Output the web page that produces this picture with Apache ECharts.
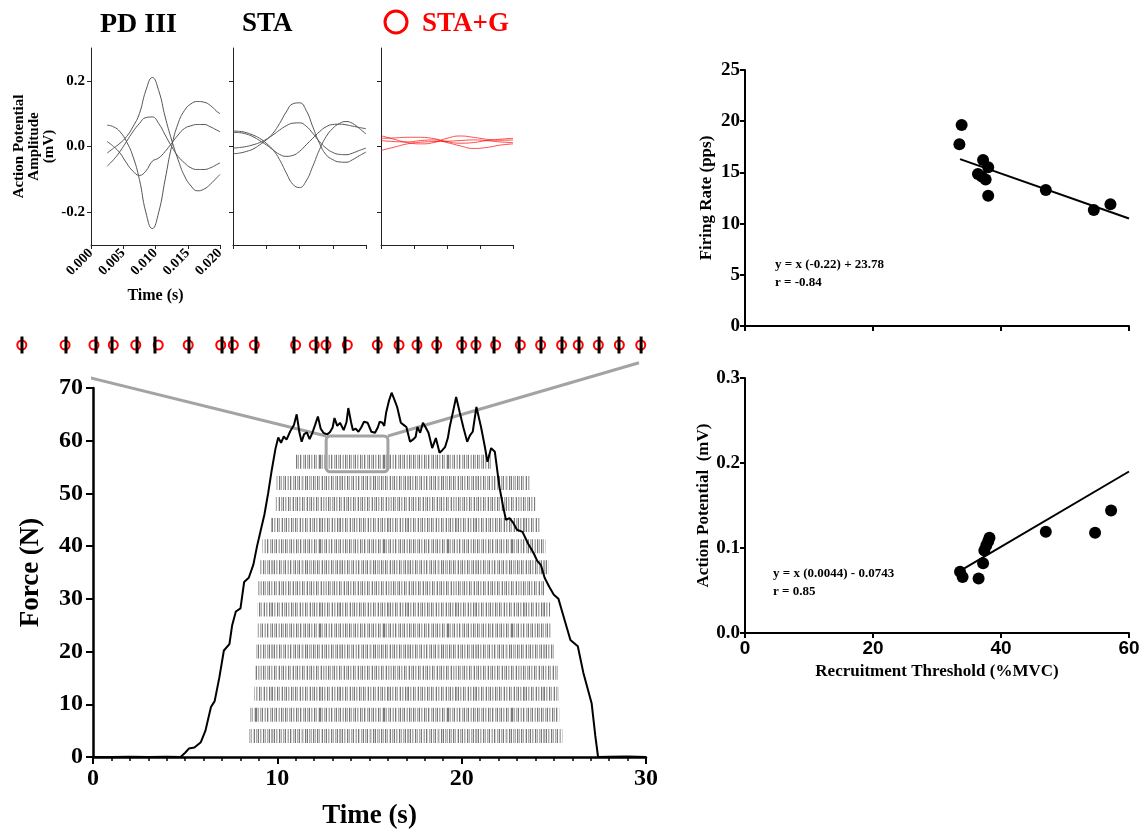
<!DOCTYPE html>
<html>
<head>
<meta charset="utf-8">
<script src="https://cdn.jsdelivr.net/npm/echarts@6/dist/echarts.min.js"></script>
<style>html,body{margin:0;background:#fff}#chart{width:1143px;height:834px}</style>
</head>
<body>
<div id="chart"></div>
<script>
var SERIF = '"Liberation Serif", "Times New Roman", serif';
var SANS = '"Liberation Sans", Arial, sans-serif';

// --- waveform panels (PD III / STA / STA+G) ---
var tPD = [0.0025, 0.0035, 0.0045, 0.0055, 0.0065, 0.0075, 0.0085, 0.0095, 0.0105, 0.0115,
           0.0125, 0.0135, 0.0145, 0.0155, 0.0165, 0.0175, 0.0185, 0.0195, 0.020];
var pdA = [-0.02, -0.005, 0.01, 0.03, 0.06, 0.10, 0.17, 0.21, 0.17, 0.09, 0.02, -0.04, -0.09, -0.12, -0.135, -0.13, -0.115, -0.095, -0.085];
var pdB = [0.065, 0.06, 0.045, 0.015, -0.03, -0.10, -0.20, -0.25, -0.20, -0.10, 0.0, 0.07, 0.11, 0.13, 0.137, 0.135, 0.125, 0.107, 0.10];
var pdC = [-0.06, -0.04, -0.015, 0.015, 0.045, 0.07, 0.088, 0.09, 0.07, 0.035, 0.0, -0.03, -0.05, -0.065, -0.07, -0.07, -0.065, -0.055, -0.05];
var pdD = [0.015, 0.0, -0.02, -0.05, -0.075, -0.088, -0.075, -0.045, -0.035, -0.015, 0.01, 0.035, 0.055, 0.063, 0.067, 0.067, 0.06, 0.05, 0.045];

var tSTA = [0, 0.001, 0.002, 0.003, 0.004, 0.005, 0.006, 0.007, 0.008, 0.009, 0.010,
            0.011, 0.012, 0.013, 0.014, 0.015, 0.016, 0.017, 0.018, 0.019, 0.020];
var staA = [-0.022, -0.02, -0.015, -0.008, 0.005, 0.02, 0.04, 0.07, 0.105, 0.13, 0.133, 0.11, 0.06, 0.01, -0.025, -0.04, -0.047, -0.048, -0.04, -0.028, -0.017];
var staB = [0.047, 0.046, 0.042, 0.035, 0.025, 0.01, -0.01, -0.04, -0.08, -0.115, -0.125, -0.105, -0.06, -0.01, 0.03, 0.055, 0.07, 0.076, 0.07, 0.055, 0.038];
var staC = [-0.005, -0.003, 0.0, 0.005, 0.012, 0.022, 0.035, 0.05, 0.063, 0.071, 0.072, 0.062, 0.04, 0.015, -0.005, -0.018, -0.024, -0.025, -0.02, -0.012, -0.005];
var staD = [0.043, 0.042, 0.038, 0.03, 0.018, 0.005, -0.01, -0.024, -0.03, -0.027, -0.015, 0.005, 0.025, 0.045, 0.06, 0.067, 0.068, 0.066, 0.062, 0.058, 0.054];

var tG = [0, 0.002, 0.004, 0.006, 0.008, 0.010, 0.012, 0.014, 0.016, 0.018, 0.020];
var gA = [0.033, 0.022, 0.012, 0.008, 0.012, 0.025, 0.032, 0.028, 0.022, 0.019, 0.02];
var gB = [0.025, 0.026, 0.028, 0.028, 0.024, 0.015, 0.01, 0.012, 0.018, 0.022, 0.025];
var gC = [0.018, 0.015, 0.014, 0.018, 0.02, 0.012, 0.002, -0.006, -0.003, 0.004, 0.008];
var gD = [-0.012, -0.002, 0.008, 0.013, 0.015, 0.016, 0.018, 0.02, 0.018, 0.014, 0.012];

// --- zoomed spike train (s) ---
var spikeTimes = [12.617, 12.858, 13.022, 13.110, 13.247, 13.345, 13.531, 13.712, 13.767, 13.898,
                  14.106, 14.227, 14.287, 14.385, 14.566, 14.675, 14.785, 14.889, 15.026, 15.102,
                  15.201, 15.338, 15.458, 15.573, 15.666, 15.776, 15.885, 16.006];
var circleTimes = [12.616, 12.853, 13.011, 13.117, 13.240, 13.363, 13.527, 13.705, 13.774, 13.889,
                   14.115, 14.217, 14.281, 14.398, 14.562, 14.681, 14.779, 14.887, 15.024, 15.102,
                   15.210, 15.345, 15.456, 15.571, 15.662, 15.772, 15.887, 16.004];

// --- force trace ---
var forceT = [0, 1, 2, 3, 4, 4.75, 5.0, 5.2, 5.5, 5.85, 6.1, 6.4, 6.6, 6.85, 7.1, 7.4, 7.55, 7.75, 8.0, 8.2,
  8.45, 8.7, 8.9, 9.1, 9.3, 9.5, 9.7, 9.9, 10.05, 10.2, 10.35, 10.5, 10.7, 10.9, 11.05, 11.2, 11.32, 11.45,
  11.6, 11.75, 11.9, 12.05, 12.2, 12.35, 12.5, 12.7, 12.85, 13.0, 13.1, 13.25, 13.4, 13.6, 13.75, 13.85,
  14.0, 14.1, 14.25, 14.4, 14.55, 14.7, 14.9, 15.1, 15.3, 15.45, 15.55, 15.7, 15.8, 15.9, 16.05, 16.2,
  16.35, 16.5, 16.7, 16.85, 17.0, 17.2, 17.35, 17.5, 17.6, 17.75, 17.9, 18.05, 18.2, 18.4, 18.6, 18.8,
  18.95, 19.1, 19.25, 19.35, 19.5, 19.7, 19.9, 20.1, 20.3, 20.45, 20.6, 20.8, 21.05, 21.25, 21.4, 21.6,
  21.8, 22.05, 22.25, 22.4, 22.6, 22.8, 23.0, 23.3, 23.6, 23.9, 24.1, 24.3, 24.5, 24.75, 25.0, 25.25,
  25.5, 25.9, 26.3, 26.6, 27.05, 27.25, 27.4, 28, 29, 30];
var forceN = [0, 0, 0.05, 0, 0.05, 0, 0.8, 1.6, 1.8, 2.8, 5, 9.5, 10.6, 15, 20.2, 21.4, 25, 27.6, 28.2, 33.2,
  34, 36.5, 40, 43, 46, 50, 54.5, 58.5, 60.6, 59.6, 60.8, 60.2, 61.8, 63, 65, 61.5, 59.8, 61.2,
  61.6, 60.3, 61.5, 63, 64.6, 62.3, 61.5, 61.2, 61.6, 62.5, 64.3, 62.8, 63.4, 62, 63.5, 66.2,
  63.5, 62, 62.3, 61.7, 62.5, 63.6, 63.4, 61.7, 61.5, 62.5, 63.6, 63.4, 62.8, 65.3, 67.5, 69.1,
  67.8, 66.4, 63.4, 63, 62.6, 59.8, 60.2, 60.7, 62.6, 61.5, 63.4, 62.5, 61.5, 58.6, 60.5, 57.7,
  58.2, 58.8, 60.5, 62.6, 65, 68.3, 65.3, 62.4, 59.8, 61, 61.7, 66.4, 62.6, 59, 56, 58.6,
  57.9, 51.2, 47.5, 45, 45.3, 44.4, 43.1, 42.7, 40.5, 38.7, 37.2, 36.4, 34, 32.3, 30.8, 30,
  27, 22.2, 21, 16, 10.2, 4, 0, 0.05, 0.1, 0];

// --- motor unit raster rows (start s, end s, force level of row) ---
var rasterStart = [11.0, 9.95, 9.9, 9.65, 9.2, 9.03, 8.92, 8.92, 8.92, 8.86, 8.76, 8.76, 8.54, 8.49];
var rasterEnd   = [21.6, 23.7, 24.0, 24.3, 24.55, 24.7, 24.5, 24.8, 24.9, 25.0, 25.2, 25.24, 25.3, 25.46];
var rasterLevel = [56, 52, 48, 44, 40, 36, 32, 28, 24, 20, 16, 12, 8, 4];

var zoomBox = [12.65, 16.0, 54.1, 60.9];
var zoomFrom = [-3.46, 29.62, 74.8];

// --- right scatter panels ---
var rtFR = [33.85, 33.5, 37.2, 38.0, 36.4, 37.0, 37.6, 38.0, 47.0, 54.5, 57.1];
var frPps = [19.63, 17.74, 16.2, 15.5, 14.85, 14.6, 14.3, 12.73, 13.28, 11.33, 11.88];
var rtAP = [33.6, 34.0, 36.5, 37.2, 37.4, 37.7, 38.0, 38.2, 47.0, 54.7, 57.2];
var apMv = [0.072, 0.066, 0.064, 0.082, 0.097, 0.103, 0.108, 0.112, 0.119, 0.118, 0.144];
var fitFR = [[33.6, 16.3], [60, 10.5]];
var fitAP = [[33.8, 0.074], [60, 0.19]];

function zip(a, b) { return a.map(function (v, i) { return [v, b[i]]; }); }

// barcode-like texture for the raster rows
var textures = [
  '3120213012031021302130120312031202130210312031021302130210312013',
  '21302103120213012031021302130121031302120312031201302130210312021302',
  '12031202130210312013021302103120130213021031201302130210312013021',
  '30210312013021302103120312013021031201302130210321302103120130210312'
];
function makePattern(str) {
  var cv = document.createElement('canvas');
  cv.width = str.length; cv.height = 4;
  var ctx = cv.getContext('2d');
  var shades = [null, 'rgba(0,0,0,0.16)', 'rgba(0,0,0,0.32)', 'rgba(0,0,0,0.52)'];
  for (var i = 0; i < str.length; i++) {
    var s = shades[+str[i]];
    if (s) { ctx.fillStyle = s; ctx.fillRect(i, 0, 1, 4); }
  }
  return { image: cv, repeat: 'repeat' };
}
var patterns = textures.map(makePattern);

var mychart = echarts.init(document.getElementById('chart'));

function lbl(size, fam, extra) {
  var o = { color: '#000', fontSize: size, fontWeight: 'bold', fontFamily: fam || SERIF };
  for (var k in extra) o[k] = extra[k];
  return o;
}
function waveX(grid, showLabel) {
  return {
    type: 'value', gridIndex: grid, min: 0, max: 0.02, interval: 0.005,
    axisLine: { onZero: false, lineStyle: { color: '#222', width: 1 } },
    axisTick: { length: 4, lineStyle: { color: '#222' } },
    axisLabel: lbl(14, SERIF, { show: showLabel, rotate: 45, margin: 6, formatter: function (v) { return v.toFixed(3); } }),
    splitLine: { show: false },
    name: showLabel ? 'Time (s)' : '', nameLocation: 'middle', nameGap: 43,
    nameTextStyle: lbl(16)
  };
}
function waveY(grid, showLabel) {
  return {
    type: 'value', gridIndex: grid, min: -0.3, max: 0.3,
    axisLine: { show: true, lineStyle: { color: '#222', width: 1 } },
    axisTick: { show: true, length: 4, customValues: [-0.2, 0, 0.2], lineStyle: { color: '#222' } },
    axisLabel: lbl(15, SERIF, { show: showLabel, customValues: [-0.2, 0, 0.2], margin: 6, formatter: function (v) { return v.toFixed(1); } }),
    splitLine: { show: false },
    name: showLabel ? 'Action Potential\nAmplitude\n(mV)' : '', nameLocation: 'middle', nameRotate: 90, nameGap: 34,
    nameTextStyle: lbl(15, SERIF, { lineHeight: 15 })
  };
}
function waveLine(grid, t, v, color, w) {
  return {
    type: 'line', xAxisIndex: grid, yAxisIndex: grid, smooth: true, showSymbol: false,
    lineStyle: { color: color, width: w }, data: zip(t, v), silent: true
  };
}

var option = {
  backgroundColor: '#fff',
  animation: false,
  grid: [
    { left: 91, top: 48, width: 129, height: 197, outerBoundsMode: 'none' },
    { left: 233, top: 48, width: 133, height: 197, outerBoundsMode: 'none' },
    { left: 381, top: 48, width: 132, height: 197, outerBoundsMode: 'none' },
    { left: 28, top: 335, width: 612, height: 20, outerBoundsMode: 'none' },
    { left: 93, top: 388, width: 553, height: 369, outerBoundsMode: 'none' },
    { left: 745, top: 70, width: 384, height: 256, outerBoundsMode: 'none' },
    { left: 745, top: 378, width: 384, height: 255, outerBoundsMode: 'none' }
  ],
  xAxis: [
    waveX(0, true), waveX(1, false), waveX(2, false),
    { type: 'value', gridIndex: 3, min: 12.65, max: 16.0, show: false },
    {
      type: 'value', gridIndex: 4, min: 0, max: 30, interval: 10,
      axisLine: { onZero: false, lineStyle: { color: '#000', width: 2.5 } },
      axisTick: { length: 7, lineStyle: { color: '#000', width: 2 } },
      minorTick: { show: true, splitNumber: 10, length: 4, lineStyle: { color: '#000', width: 1.5 } },
      axisLabel: lbl(24, SERIF, { margin: 10 }),
      splitLine: { show: false },
      name: 'Time (s)', nameLocation: 'middle', nameGap: 46, nameTextStyle: lbl(27)
    },
    {
      type: 'value', gridIndex: 5, min: 0, max: 60, interval: 20,
      axisLine: { onZero: false, lineStyle: { color: '#000', width: 2 } },
      axisTick: { length: 5, lineStyle: { color: '#000', width: 2 } },
      axisLabel: { show: false }, splitLine: { show: false }
    },
    {
      type: 'value', gridIndex: 6, min: 0, max: 60, interval: 20,
      axisLine: { onZero: false, lineStyle: { color: '#000', width: 2 } },
      axisTick: { length: 5, lineStyle: { color: '#000', width: 2 } },
      axisLabel: lbl(19, SANS, { margin: 6 }), splitLine: { show: false },
      name: 'Recruitment Threshold (%MVC)', nameLocation: 'middle', nameGap: 30, nameTextStyle: lbl(17)
    }
  ],
  yAxis: [
    waveY(0, true), waveY(1, false), waveY(2, false),
    { type: 'value', gridIndex: 3, min: 0, max: 1, show: false },
    {
      type: 'value', gridIndex: 4, min: 0, max: 70, interval: 10,
      axisLine: { show: true, lineStyle: { color: '#000', width: 2.5 } },
      axisTick: { show: true, length: 7, lineStyle: { color: '#000', width: 2 } },
      axisLabel: lbl(24, SERIF, { margin: 10 }),
      splitLine: { show: false },
      name: 'Force (N)', nameLocation: 'middle', nameRotate: 90, nameGap: 48, nameTextStyle: lbl(27)
    },
    {
      type: 'value', gridIndex: 5, min: 0, max: 25, interval: 5,
      axisLine: { show: true, lineStyle: { color: '#000', width: 2 } },
      axisTick: { show: true, length: 5, lineStyle: { color: '#000', width: 2 } },
      axisLabel: lbl(19, SERIF, { margin: 5 }),
      splitLine: { show: false },
      name: 'Firing Rate (pps)', nameLocation: 'middle', nameRotate: 90, nameGap: 30, nameTextStyle: lbl(17)
    },
    {
      type: 'value', gridIndex: 6, min: 0, max: 0.3, interval: 0.1,
      axisLine: { show: true, lineStyle: { color: '#000', width: 2 } },
      axisTick: { show: true, length: 5, lineStyle: { color: '#000', width: 2 } },
      axisLabel: lbl(19, SERIF, { margin: 5, formatter: function (v) { return v.toFixed(1); } }),
      splitLine: { show: false },
      name: 'Action Potential  (mV)', nameLocation: 'middle', nameRotate: 90, nameGap: 30, nameTextStyle: lbl(17)
    }
  ],
  graphic: [
    { type: 'text', left: 100, top: 11, style: { text: 'PD III', font: 'bold 28px ' + SERIF, fill: '#000' } },
    { type: 'text', left: 242, top: 11, style: { text: 'STA', font: 'bold 27px ' + SERIF, fill: '#000' } },
    { type: 'circle', shape: { cx: 396, cy: 22, r: 11 }, style: { fill: 'none', stroke: '#f00', lineWidth: 3 } },
    { type: 'text', left: 422, top: 11, style: { text: 'STA+G', font: 'bold 27px ' + SERIF, fill: '#f00' } },
    { type: 'text', left: 775, top: 256, style: { text: 'y = x (-0.22) + 23.78\nr = -0.84', font: 'bold 13px ' + SERIF, fill: '#000', lineHeight: 18 } },
    { type: 'text', left: 773, top: 565, style: { text: 'y = x (0.0044) - 0.0743\nr = 0.85', font: 'bold 13px ' + SERIF, fill: '#000', lineHeight: 18 } }
  ],
  series: [
    waveLine(0, tPD, pdA, '#555', 1), waveLine(0, tPD, pdB, '#555', 1),
    waveLine(0, tPD, pdC, '#555', 1), waveLine(0, tPD, pdD, '#555', 1),
    waveLine(1, tSTA, staA, '#555', 1), waveLine(1, tSTA, staB, '#555', 1),
    waveLine(1, tSTA, staC, '#555', 1), waveLine(1, tSTA, staD, '#555', 1),
    waveLine(2, tG, gA, 'rgba(255,0,0,0.7)', 1), waveLine(2, tG, gB, 'rgba(255,0,0,0.7)', 1),
    waveLine(2, tG, gC, 'rgba(255,0,0,0.7)', 1), waveLine(2, tG, gD, 'rgba(255,0,0,0.7)', 1),
    {
      // decomposed spikes, zoomed window
      type: 'scatter', xAxisIndex: 3, yAxisIndex: 3, clip: false, z: 2,
      symbol: 'emptyCircle', symbolSize: 9,
      itemStyle: { color: '#f00', borderColor: '#f00', borderWidth: 1.4, opacity: 1 },
      data: circleTimes.map(function (t) { return [t, 0.5]; })
    },
    {
      type: 'scatter', xAxisIndex: 3, yAxisIndex: 3, clip: false, z: 3,
      symbol: 'rect', symbolSize: [3, 17], itemStyle: { color: '#000', opacity: 1 },
      data: spikeTimes.map(function (t) { return [t, 0.5]; })
    },
    {
      type: 'custom', xAxisIndex: 4, yAxisIndex: 4, z: 1,
      data: rasterStart.map(function (s, i) { return [s, rasterEnd[i], rasterLevel[i]]; }),
      renderItem: function (params, api) {
        var a = api.coord([api.value(0), api.value(2)]);
        var b = api.coord([api.value(1), api.value(2)]);
        return {
          type: 'rect',
          shape: { x: a[0], y: a[1] - 7, width: b[0] - a[0], height: 14 },
          style: { fill: patterns[params.dataIndex % patterns.length] }
        };
      }
    },
    {
      type: 'line', xAxisIndex: 4, yAxisIndex: 4, clip: false, z: 2, showSymbol: false, silent: true,
      lineStyle: { color: '#a3a3a3', width: 3 },
      data: [[zoomFrom[0], zoomFrom[2]], [zoomBox[0], zoomBox[3]]]
    },
    {
      type: 'line', xAxisIndex: 4, yAxisIndex: 4, clip: false, z: 2, showSymbol: false, silent: true,
      lineStyle: { color: '#a3a3a3', width: 3 },
      data: [[zoomFrom[1], zoomFrom[2]], [zoomBox[1], zoomBox[3]]]
    },
    {
      type: 'custom', xAxisIndex: 4, yAxisIndex: 4, z: 3,
      data: [zoomBox],
      renderItem: function (params, api) {
        var a = api.coord([api.value(0), api.value(3)]);
        var b = api.coord([api.value(1), api.value(2)]);
        return {
          type: 'rect',
          shape: { x: a[0], y: a[1], width: b[0] - a[0], height: b[1] - a[1], r: 4 },
          style: { fill: 'none', stroke: '#a3a3a3', lineWidth: 3 }
        };
      }
    },
    {
      type: 'line', xAxisIndex: 4, yAxisIndex: 4, z: 5, showSymbol: false, silent: true,
      lineStyle: { color: '#000', width: 2 },
      data: zip(forceT, forceN)
    },
    {
      type: 'scatter', xAxisIndex: 5, yAxisIndex: 5, symbolSize: 12,
      itemStyle: { color: '#000', opacity: 1 }, data: zip(rtFR, frPps)
    },
    {
      type: 'line', xAxisIndex: 5, yAxisIndex: 5, showSymbol: false,
      lineStyle: { color: '#000', width: 2 }, data: fitFR
    },
    {
      type: 'scatter', xAxisIndex: 6, yAxisIndex: 6, symbolSize: 12,
      itemStyle: { color: '#000', opacity: 1 }, data: zip(rtAP, apMv)
    },
    {
      type: 'line', xAxisIndex: 6, yAxisIndex: 6, showSymbol: false,
      lineStyle: { color: '#000', width: 2 }, data: fitAP
    }
  ]
};
mychart.setOption(option);
window.addEventListener('resize', function () { mychart.resize(); });
</script>
</body>
</html>
